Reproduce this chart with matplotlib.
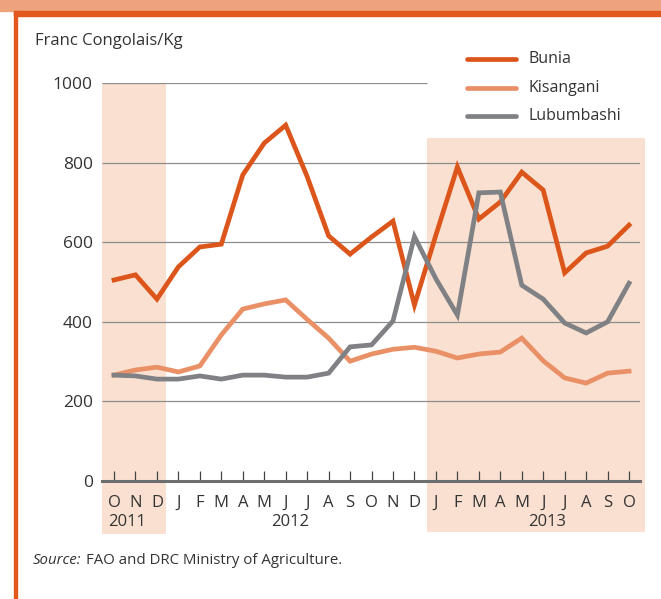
import matplotlib.pyplot as plt
from matplotlib.lines import Line2D
from matplotlib.patches import Rectangle

# === DATA ===
months = ["O", "N", "D",
          "J", "F", "M", "A", "M", "J", "J", "A", "S", "O", "N", "D",
          "J", "F", "M", "A", "M", "J", "J", "A", "S", "O"]
years = ["2011", "2012", "2013"]
year_pos = [0.6, 8.2, 20.2]

bunia = [505, 518, 457, 538, 588, 595, 769, 849, 894, 765, 616, 570, 613, 653, 442,
         618, 789, 658, 701, 776, 731, 523, 573, 590, 643]
kisangani = [266, 279, 286, 274, 289, 367, 432, 445, 455, 406, 359, 301, 319, 331, 336,
             326, 309, 319, 324, 359, 302, 259, 246, 271, 276]
lubumbashi = [266, 264, 256, 256, 264, 256, 266, 266, 261, 261, 271, 337, 342, 402, 614,
              508, 417, 724, 726, 492, 457, 397, 372, 400, 497]

series_names = ["Bunia", "Kisangani", "Lubumbashi"]
series_values = [bunia, kisangani, lubumbashi]
series_colors = ["#dc561c", "#ea9066", "#808184"]

grid_values = [200, 400, 600, 800, 1000]

SHADE = "#f9e0d0"
TEXT = "#333333"
FONT = ["Open Sans", "DejaVu Sans"]
plt.rcParams["font.family"] = FONT

W, H = 661, 599
fig = plt.figure(figsize=(W / 100, H / 100), dpi=100)


def fx(px):
    return px / W


def fy(py):
    return 1 - py / H


# page frame: band on top and orange rule on the left
fig.patches.append(Rectangle((0, fy(11)), 1, 11 / H, transform=fig.transFigure,
                             color="#eda47c", zorder=0))
fig.patches.append(Rectangle((fx(14), fy(15.5)), 1, 4.5 / H, transform=fig.transFigure,
                             color="#e1591f", zorder=1))
fig.patches.append(Rectangle((fx(14), 0), 2.8 / W, fy(11), transform=fig.transFigure,
                             color="#e1591f", zorder=1))

ax = fig.add_axes([fx(102.5), fy(481), fx(640) - fx(102.5), fy(83) - fy(481)])
ax.patch.set_alpha(0)
x_left, x_right = -0.536, 24.51
ax.set_xlim(x_left, x_right)
ax.set_ylim(0, 1000)

# shaded periods (Oct-Dec 2011, 2013)
ax.add_patch(Rectangle((x_left, -134), 2.42 - x_left, 1134, color=SHADE,
                       clip_on=False, zorder=0, lw=0))
ax.add_patch(Rectangle((14.57, -128), 24.75 - 14.57, 863 + 128, color=SHADE,
                       clip_on=False, zorder=0, lw=0))

for g in grid_values:
    end = 14.57 if g == 1000 else x_right
    ax.hlines(g, x_left, end, color="#8d8d8d", lw=0.9, zorder=1)

x = list(range(len(months)))
for vals, col in zip(series_values, series_colors):
    ax.plot(x, vals, color=col, lw=3.4, solid_joinstyle="miter", zorder=3,
            clip_on=False)

for s in ["left", "right", "top"]:
    ax.spines[s].set_visible(False)
ax.spines["bottom"].set_color("#6d6e70")
ax.spines["bottom"].set_linewidth(2.2)
ax.spines["bottom"].set_zorder(4)

ax.set_xticks(x)
ax.set_xticklabels(months, fontsize=12, color=TEXT)
ax.tick_params(axis="x", direction="in", length=7.2, width=0.9, color="#444444", pad=10)
ax.set_yticks([0, 200, 400, 600, 800, 1000])
ax.set_yticklabels(["0", "200", "400", "600", "800", "1000"], fontsize=12.5, color=TEXT)
ax.tick_params(axis="y", length=0, pad=7)

for yr, xp in zip(years, year_pos):
    ax.text(xp, -104, yr, ha="center", va="center", fontsize=12, color=TEXT)

fig.text(fx(35), fy(41), "Franc Congolais/Kg", ha="left", va="center",
         fontsize=12, color=TEXT)

# legend
for i, (name, col) in enumerate(zip(series_names, series_colors)):
    yy = fy(59 + 28.7 * i)
    fig.add_artist(Line2D([fx(467), fx(516)], [yy, yy], color=col, lw=3.4,
                          solid_capstyle="round", transform=fig.transFigure))
    fig.text(fx(528), yy, name, ha="left", va="center", fontsize=11.5, color=TEXT)

# source note
src = fig.text(fx(33), fy(564), "Source:", ha="left", va="baseline", fontsize=10.8,
               style="italic", color=TEXT)
ax.annotate("FAO and DRC Ministry of Agriculture.", xy=(1, 0), xycoords=src,
            xytext=(3, 0), textcoords="offset points", ha="left", va="bottom",
            fontsize=10.8, color=TEXT, annotation_clip=False)

fig.savefig("out.png", dpi=100)
